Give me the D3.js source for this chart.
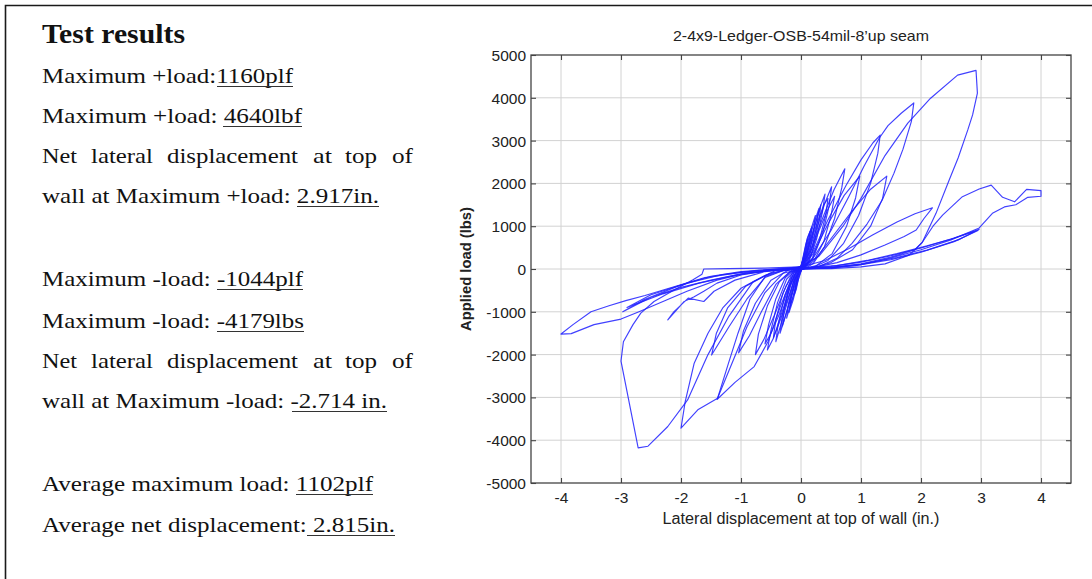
<!DOCTYPE html>
<html>
<head>
<meta charset="utf-8">
<script src="https://cdn.jsdelivr.net/npm/d3@7"></script>
<style>
  html, body { margin: 0; padding: 0; background: #fff; }
  svg { display: block; }
</style>
</head>
<body>
<svg id="fig" width="1092" height="579"></svg>
<script>
// ---------------- chart values ----------------
const chartTitle = "2-4x9-Ledger-OSB-54mil-8\u2019up seam";
const xAxisTitle = "Lateral displacement at top of wall (in.)";
const yAxisTitle = "Applied load (lbs)";

const xTicks = [-4, -3, -2, -1, 0, 1, 2, 3, 4];
const xTickLabels = ["-4", "-3", "-2", "-1", "0", "1", "2", "3", "4"];
const yTicks = [-5000, -4000, -3000, -2000, -1000, 0, 1000, 2000, 3000, 4000, 5000];
const yTickLabels = ["-5000", "-4000", "-3000", "-2000", "-1000", "0", "1000", "2000", "3000", "4000", "5000"];

// peak values reported in the summary
const maxPosLoad = 4640;     // lbf
const dispAtMaxPos = 2.917;  // in.
const maxNegLoad = -4179;    // lbs
const dispAtMaxNeg = -2.714; // in.

// recorded hysteresis, one array per cycle: [displacement (in.), load (lbs)]
const cycle01 = [[0,40],[0.04,320],[0.08,580],[0.11,700],[0.09,480],[0.05,180],[0.01,20],[-0.04,-220],[-0.08,-480],[-0.11,-600],[-0.09,-400],[-0.05,-120],[0,40]];
const cycle02 = [[0,60],[0.06,380],[0.12,760],[0.18,980],[0.16,720],[0.1,330],[0.03,40],[-0.05,-200],[-0.11,-560],[-0.18,-880],[-0.16,-620],[-0.1,-260],[-0.02,10],[0,60]];
const cycle03 = [[0,50],[0.08,430],[0.16,900],[0.24,1250],[0.22,960],[0.15,450],[0.06,70],[-0.04,-120],[-0.13,-620],[-0.24,-1150],[-0.21,-820],[-0.13,-330],[-0.04,-10],[0,50]];
const cycle04 = [[0,70],[0.1,480],[0.2,1000],[0.3,1420],[0.27,1080],[0.19,520],[0.09,110],[-0.03,-60],[-0.14,-560],[-0.24,-1000],[-0.31,-1330],[-0.28,-950],[-0.18,-380],[-0.06,-20],[0,70]];
const cycle05 = [[0,30],[0.12,470],[0.24,1050],[0.33,1500],[0.3,1120],[0.2,480],[0.1,90],[-0.05,-90],[-0.16,-600],[-0.27,-1150],[-0.35,-1500],[-0.31,-1080],[-0.2,-420],[-0.07,-30],[0,30]];
const cycle06 = [[0,80],[0.1,420],[0.22,980],[0.32,1450],[0.4,1750],[0.36,1350],[0.26,700],[0.13,160],[0,0],[-0.12,-280],[-0.24,-840],[-0.34,-1320],[-0.42,-1700],[-0.38,-1280],[-0.27,-620],[-0.12,-90],[0,80]];
const cycle07 = [[0,50],[0.1,300],[0.25,900],[0.4,1550],[0.51,1920],[0.47,1480],[0.36,820],[0.2,250],[0.05,30],[-0.06,-60],[-0.17,-380],[-0.32,-1020],[-0.46,-1620],[-0.56,-1890],[-0.5,-1430],[-0.39,-780],[-0.24,-240],[-0.09,-20],[0,50]];
const cycle08 = [[0,40],[0.15,380],[0.3,900],[0.45,1400],[0.56,1700],[0.5,1250],[0.38,640],[0.22,200],[0.06,20],[-0.08,-70],[-0.2,-420],[-0.36,-1050],[-0.5,-1500],[-0.6,-1750],[-0.54,-1300],[-0.42,-700],[-0.26,-200],[-0.1,-10],[0,40]];
const cycle09 = [[0,50],[0.15,420],[0.35,1150],[0.55,1850],[0.73,2340],[0.68,1900],[0.56,1180],[0.39,520],[0.2,120],[0.05,0],[-0.1,-60],[-0.25,-400],[-0.45,-1100],[-0.62,-1650],[-0.76,-2000],[-0.71,-1520],[-0.56,-860],[-0.36,-300],[-0.15,-30],[0,50]];
const cycle10 = [[0,50],[0.2,350],[0.45,1050],[0.72,1720],[0.98,2170],[0.91,1660],[0.76,1000],[0.52,360],[0.26,80],[0,0],[-0.2,-80],[-0.42,-360],[-0.66,-1000],[-0.86,-1560],[-1.04,-1960],[-0.96,-1450],[-0.76,-800],[-0.5,-260],[-0.2,-20],[0,50]];
const cycle11 = [[0,50],[0.2,400],[0.45,1150],[0.75,1950],[1.0,2550],[1.2,2950],[1.32,3130],[1.28,2700],[1.16,2000],[0.96,1250],[0.71,600],[0.45,200],[0.2,40],[0,0],[-0.3,-100],[-0.6,-550],[-0.9,-1350],[-1.15,-2200],[-1.4,-3050],[-1.1,-2650],[-0.78,-2280],[-0.55,-1700],[-0.35,-900],[-0.15,-200],[0,50]];
const cycle12 = [[0,50],[0.25,250],[0.55,800],[0.85,1350],[1.15,1850],[1.43,2170],[1.36,1650],[1.16,1000],[0.86,450],[0.5,150],[0.2,30],[0,0],[-0.3,-40],[-0.6,-200],[-0.9,-700],[-1.2,-1350],[-1.49,-2010],[-1.41,-1500],[-1.22,-900],[-0.92,-400],[-0.52,-100],[-0.2,-10],[0,50]];
const cycle13 = [[0,50],[0.2,250],[0.5,900],[0.8,1700],[1.05,2400],[1.3,3050],[1.45,3350],[1.67,3640],[1.88,3880],[1.84,3450],[1.7,2800],[1.55,2240],[1.35,1600],[1.1,1050],[0.85,600],[0.6,250],[0.3,60],[0,0],[-0.3,-30],[-0.6,-180],[-0.85,-700],[-1.05,-1500],[-1.22,-2250],[-1.39,-3020],[-1.72,-3290],[-2.0,-3720],[-1.93,-3100],[-1.78,-2200],[-1.55,-1500],[-1.3,-900],[-1.0,-450],[-0.6,-150],[-0.25,-20],[0,50]];
const cycle14 = [[0,50],[0.4,200],[0.8,480],[1.2,800],[1.6,1100],[1.9,1290],[2.19,1430],[2.05,1180],[1.92,910],[1.72,760],[1.4,560],[1.0,330],[0.6,150],[0.2,30],[0,0],[-0.5,-30],[-1.0,-140],[-1.4,-330],[-1.62,-520],[-1.78,-650],[-1.95,-760],[-2.22,-1190],[-2.12,-1000],[-1.88,-680],[-1.62,-760],[-1.45,-520],[-1.1,-260],[-0.6,-60],[0,50]];
const cycle15 = [[0,50],[0.3,300],[0.7,1000],[1.0,1650],[1.4,2650],[1.78,3410],[2.16,3990],[2.61,4530],[dispAtMaxPos,maxPosLoad],[2.94,4110],[2.86,3600],[2.78,3250],[2.62,2600],[2.47,2080],[2.25,1300],[2.02,620],[1.8,320],[1.4,120],[1.0,50],[0.5,10],[0,0],[-0.4,-20],[-0.8,-300],[-1.2,-1100],[-1.55,-2000],[-1.89,-3060],[-2.22,-3680],[-2.55,-4140],[dispAtMaxNeg,maxNegLoad],[-3.0,-2150],[-2.96,-1700],[-2.8,-1300],[-2.67,-1030],[-2.45,-760],[-2.1,-480],[-1.8,-250],[-1.65,-120],[-1.62,0],[-1.2,10],[-0.6,20],[0,50]];
const cycle16 = [[0,0],[0.5,60],[1.0,160],[1.5,310],[2.0,490],[2.5,700],[2.97,930],[2.62,680],[2.1,440],[1.6,270],[1.0,110],[0.5,30],[0,0],[-0.5,-30],[-1.0,-110],[-1.5,-260],[-2.0,-430],[-2.5,-660],[-2.97,-1000],[-2.62,-720],[-2.05,-400],[-1.5,-170],[-1.0,-60],[-0.5,-10],[0,50]];
const cycle17 = [[0,30],[0.6,80],[1.1,200],[1.6,360],[2.1,540],[2.55,720],[2.95,900],[2.55,640],[2.0,390],[1.5,220],[0.9,80],[0.4,20],[0,0],[-0.6,-50],[-1.1,-150],[-1.7,-330],[-2.3,-580],[-2.9,-900],[-2.5,-600],[-1.9,-330],[-1.3,-130],[-0.7,-30],[0,30]];
const cycle18 = [[0,30],[0.5,40],[1.0,120],[1.5,280],[1.9,450],[2.02,620],[2.2,1000],[2.36,1260],[2.69,1690],[2.97,1870],[3.17,1960],[3.36,1675],[3.56,1570],[3.76,1860],[4.0,1830],[4.0,1700],[3.78,1675],[3.58,1500],[3.39,1450],[3.19,1300],[2.97,960],[2.5,680],[2.0,450],[1.5,260],[1.0,100],[0.5,20],[0,0],[-0.5,-20],[-1.0,-80],[-1.6,-200],[-2.2,-450],[-2.6,-620],[-2.92,-740],[-3.2,-860],[-3.5,-1000],[-3.8,-1300],[-4.0,-1520],[-3.83,-1510],[-3.45,-1300],[-3.0,-1170],[-2.7,-1000],[-2.3,-760],[-1.9,-520],[-1.4,-260],[-0.9,-90],[-0.4,-20],[0,30]];
const cycle19 = [[0,20],[0.05,350],[0.1,700],[0.15,880],[0.13,620],[0.08,260],[0.02,30],[-0.06,-320],[-0.13,-720],[-0.2,-1020],[-0.17,-700],[-0.1,-280],[-0.02,0],[0,20]];
const cycle20 = [[0,60],[0.12,440],[0.26,1040],[0.38,1500],[0.45,1650],[0.41,1240],[0.3,640],[0.16,160],[0.02,10],[-0.1,-200],[-0.22,-700],[-0.36,-1250],[-0.46,-1600],[-0.42,-1180],[-0.3,-560],[-0.14,-80],[0,60]];

const cycles = [cycle01, cycle02, cycle03, cycle04, cycle05, cycle06, cycle07, cycle08, cycle09, cycle10,
                cycle11, cycle12, cycle13, cycle14, cycle15, cycle16, cycle17, cycle18, cycle19, cycle20];

// ---------------- summary text ----------------
const summaryHeading = "Test results";
const summaryLines = [
  "Maximum +load:1160plf",
  "Maximum +load: 4640lbf",
  null,
  "wall at Maximum +load: 2.917in.",
  "Maximum -load: -1044plf",
  "Maximum -load: -4179lbs",
  null,
  "wall at Maximum -load: -2.714 in.",
  "Average maximum load: 1102plf",
  "Average net displacement: 2.815in."
];
const justifiedWords = ["Net", "lateral", "displacement", "at", "top", "of"];

// ---------------- drawing ----------------
const svg = d3.select("#fig");
const sans = "'Liberation Sans', Arial, Helvetica, sans-serif";
const serif = "'Liberation Serif', 'Times New Roman', Times, serif";

// page frame
svg.append("path")
  .attr("d", "M5.5,579 V5.5 H1092")
  .attr("fill", "none").attr("stroke", "#1a1a1a").attr("stroke-width", 1.6);

// summary block
const txt = svg.append("g").attr("fill", "#111").attr("font-family", serif);
txt.append("text").attr("x", 42).attr("y", 43)
  .attr("font-size", 27).attr("font-weight", "bold")
  .attr("textLength", 143).attr("lengthAdjust", "spacingAndGlyphs")
  .text(summaryHeading);

const lineBase = [83, 123, 163, 203, 286, 328, 368, 408, 491, 532];
const lineRight = [293, 302, 413, 379, 303, 304, 413, 387, 373, 395];
const underline = [[217, 293], [223, 302], null, [297, 379], [217, 303], [217, 304], null, [292, 387], [296, 373], [307, 395]];
const wordSpan = [[42, 77], [91, 153], [167, 298], [313, 332], [345, 377], [392, 413]];

summaryLines.forEach((s, i) => {
  const yb = lineBase[i];
  if (s === null) {
    justifiedWords.forEach((w, k) => {
      txt.append("text").attr("x", wordSpan[k][0]).attr("y", yb)
        .attr("font-size", 22)
        .attr("textLength", wordSpan[k][1] - wordSpan[k][0]).attr("lengthAdjust", "spacingAndGlyphs")
        .text(w);
    });
  } else {
    txt.append("text").attr("x", 42).attr("y", yb)
      .attr("font-size", 22)
      .attr("textLength", lineRight[i] - 42).attr("lengthAdjust", "spacingAndGlyphs")
      .text(s);
  }
  if (underline[i]) {
    txt.append("line")
      .attr("x1", underline[i][0]).attr("x2", underline[i][1])
      .attr("y1", yb + 3.5).attr("y2", yb + 3.5)
      .attr("stroke", "#333").attr("stroke-width", 1.2);
  }
});

// plot area
const pLeft = 531, pRight = 1071, pTop = 55, pBottom = 483;
const x = d3.scaleLinear().domain([-4.5, 4.5]).range([pLeft, pRight]);
const y = d3.scaleLinear().domain([-5000, 5000]).range([pBottom, pTop]);

const plot = svg.append("g");

// grid
plot.append("g").selectAll("line").data(xTicks).join("line")
  .attr("x1", d => x(d)).attr("x2", d => x(d))
  .attr("y1", pTop).attr("y2", pBottom)
  .attr("stroke", "#d2d2d2").attr("stroke-width", 1);
plot.append("g").selectAll("line").data(yTicks.slice(1, -1)).join("line")
  .attr("x1", pLeft).attr("x2", pRight)
  .attr("y1", d => y(d)).attr("y2", d => y(d))
  .attr("stroke", "#d2d2d2").attr("stroke-width", 1);

// hysteresis curves
const line = d3.line()
  .x(d => x(d[0])).y(d => y(d[1]))
  .curve(d3.curveLinear);
plot.append("g").selectAll("path").data(cycles).join("path")
  .attr("d", line)
  .attr("fill", "none")
  .attr("stroke", "#1f1fff")
  .attr("stroke-opacity", 0.85)
  .attr("stroke-width", 1.15)
  .attr("stroke-linejoin", "round");

// axes (inward ticks on all four sides)
const fmtX = (d, i) => xTickLabels[i];
const fmtY = (d, i) => yTickLabels[i];
const axB = plot.append("g").attr("transform", `translate(0,${pBottom})`)
  .call(d3.axisBottom(x).tickValues(xTicks).tickFormat(fmtX).tickSizeInner(-5).tickSizeOuter(0).tickPadding(9));
const axT = plot.append("g").attr("transform", `translate(0,${pTop})`)
  .call(d3.axisTop(x).tickValues(xTicks).tickFormat("").tickSizeInner(-5).tickSizeOuter(0));
const axL = plot.append("g").attr("transform", `translate(${pLeft},0)`)
  .call(d3.axisLeft(y).tickValues(yTicks).tickFormat(fmtY).tickSizeInner(-5).tickSizeOuter(0).tickPadding(5));
const axR = plot.append("g").attr("transform", `translate(${pRight},0)`)
  .call(d3.axisRight(y).tickValues(yTicks).tickFormat("").tickSizeInner(-5).tickSizeOuter(0));

[axB, axT, axL, axR].forEach(a => {
  a.select(".domain").remove();
  a.selectAll(".tick line").attr("stroke", "#444").attr("stroke-width", 1.1);
  a.selectAll("text").attr("font-family", sans).attr("font-size", 15.5).attr("fill", "#222");
});
axL.selectAll("text").attr("dy", "0.36em");

// box
plot.append("rect")
  .attr("x", pLeft).attr("y", pTop).attr("width", pRight - pLeft).attr("height", pBottom - pTop)
  .attr("fill", "none").attr("stroke", "#444").attr("stroke-width", 1.3);

// titles
svg.append("text").attr("x", (pLeft + pRight) / 2).attr("y", 41)
  .attr("text-anchor", "middle").attr("font-family", sans).attr("font-size", 15).attr("fill", "#222")
  .attr("textLength", 256).attr("lengthAdjust", "spacingAndGlyphs")
  .text(chartTitle);
svg.append("text").attr("x", (pLeft + pRight) / 2).attr("y", 524)
  .attr("text-anchor", "middle").attr("font-family", sans).attr("font-size", 16).attr("fill", "#222")
  .attr("textLength", 277).attr("lengthAdjust", "spacingAndGlyphs")
  .text(xAxisTitle);
svg.append("text")
  .attr("transform", `translate(471,${(pTop + pBottom) / 2}) rotate(-90)`)
  .attr("text-anchor", "middle").attr("font-family", sans).attr("font-size", 15).attr("font-weight", "bold")
  .attr("fill", "#222")
  .attr("textLength", 124).attr("lengthAdjust", "spacingAndGlyphs")
  .text(yAxisTitle);
</script>
</body>
</html>
